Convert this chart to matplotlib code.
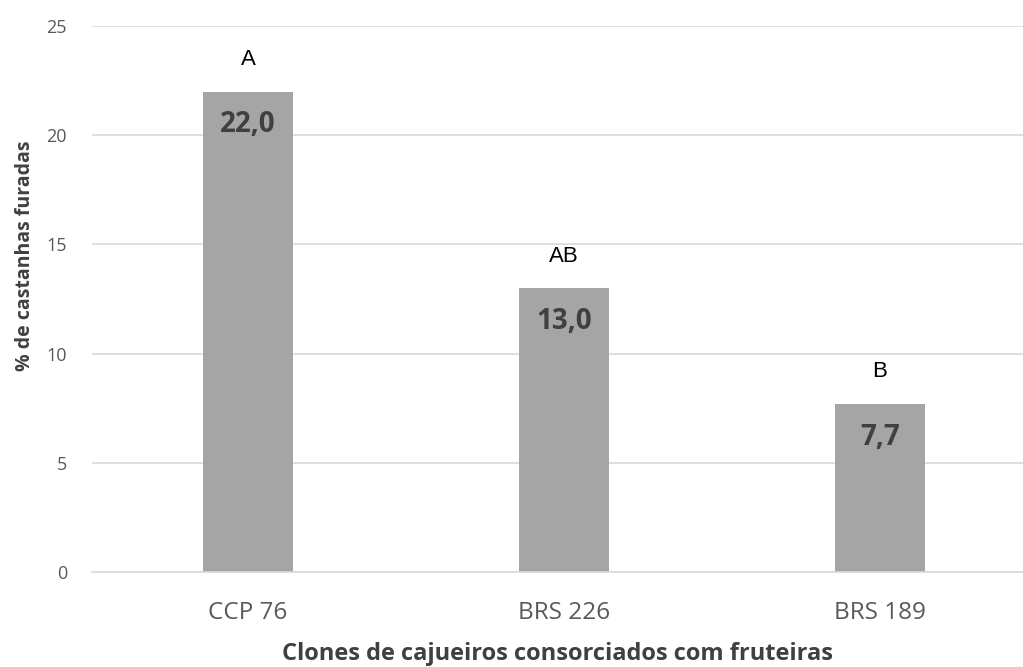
import matplotlib
matplotlib.use("Agg")
import matplotlib.pyplot as plt
from matplotlib import font_manager

categories = ["CCP 76", "BRS 226", "BRS 189"]
values = [22.0, 13.0, 7.7]
value_labels = ["22,0", "13,0", "7,7"]
letters = ["A", "AB", "B"]
yticks = [0, 5, 10, 15, 20, 25]

avail = {f.name for f in font_manager.fontManager.ttflist}
narrow = [f for f in ["Liberation Sans Narrow", "Open Sans", "DejaVu Sans"] if f in avail]
arial = [f for f in ["Liberation Sans", "Arial", "DejaVu Sans"] if f in avail]

W, H = 1023, 667
fig = plt.figure(figsize=(W / 100, H / 100), dpi=100)
left, right = 92, 1023
top, bottom = 26, 572
ax = fig.add_axes([left / W, (H - bottom) / H, (right - left) / W, (bottom - top) / H])

x = list(range(len(categories)))
bars = ax.bar(x, values, width=0.285, color="#A5A5A5", zorder=2)

ax.set_ylim(0, 25)
ax.set_xlim(-0.494, 2.453)
ax.set_yticks(yticks)
ax.set_yticklabels([str(t) for t in yticks], family=narrow, fontsize=13, color="#595959")
ax.set_xticks(x)
ax.set_xticklabels(categories, family=narrow, fontsize=17.5, color="#595959")
ax.tick_params(axis="y", length=0, pad=18)
ax.tick_params(axis="x", length=0, pad=21)
ax.grid(axis="y", color="#D9D9D9", linewidth=1.2, zorder=0)
for s in ["top", "right", "left"]:
    ax.spines[s].set_visible(False)
ax.spines["bottom"].set_color("#D9D9D9")
ax.spines["bottom"].set_linewidth(1.2)

for xi, v, lab, let in zip(x, values, value_labels, letters):
    ax.annotate(lab, (xi, v), xytext=(0, -24), textcoords="offset points",
                ha="center", va="center", family=narrow, fontsize=20,
                fontweight="bold", color="#404040")
    ax.annotate(let, (xi, v), xytext=(0, 23), textcoords="offset points",
                ha="center", va="center", family=arial, fontsize=16, color="#000000")

ax.set_xlabel("Clones de cajueiros consorciados com fruteiras", family=narrow,
              fontsize=17, fontweight="bold", color="#404040", labelpad=12)
ax.set_ylabel("% de castanhas furadas", family=narrow, fontsize=14,
              fontweight="bold", color="#404040", labelpad=10)
ax.yaxis.set_label_coords(-57 / (right - left), 0.58)

fig.savefig("out.png", dpi=100)
